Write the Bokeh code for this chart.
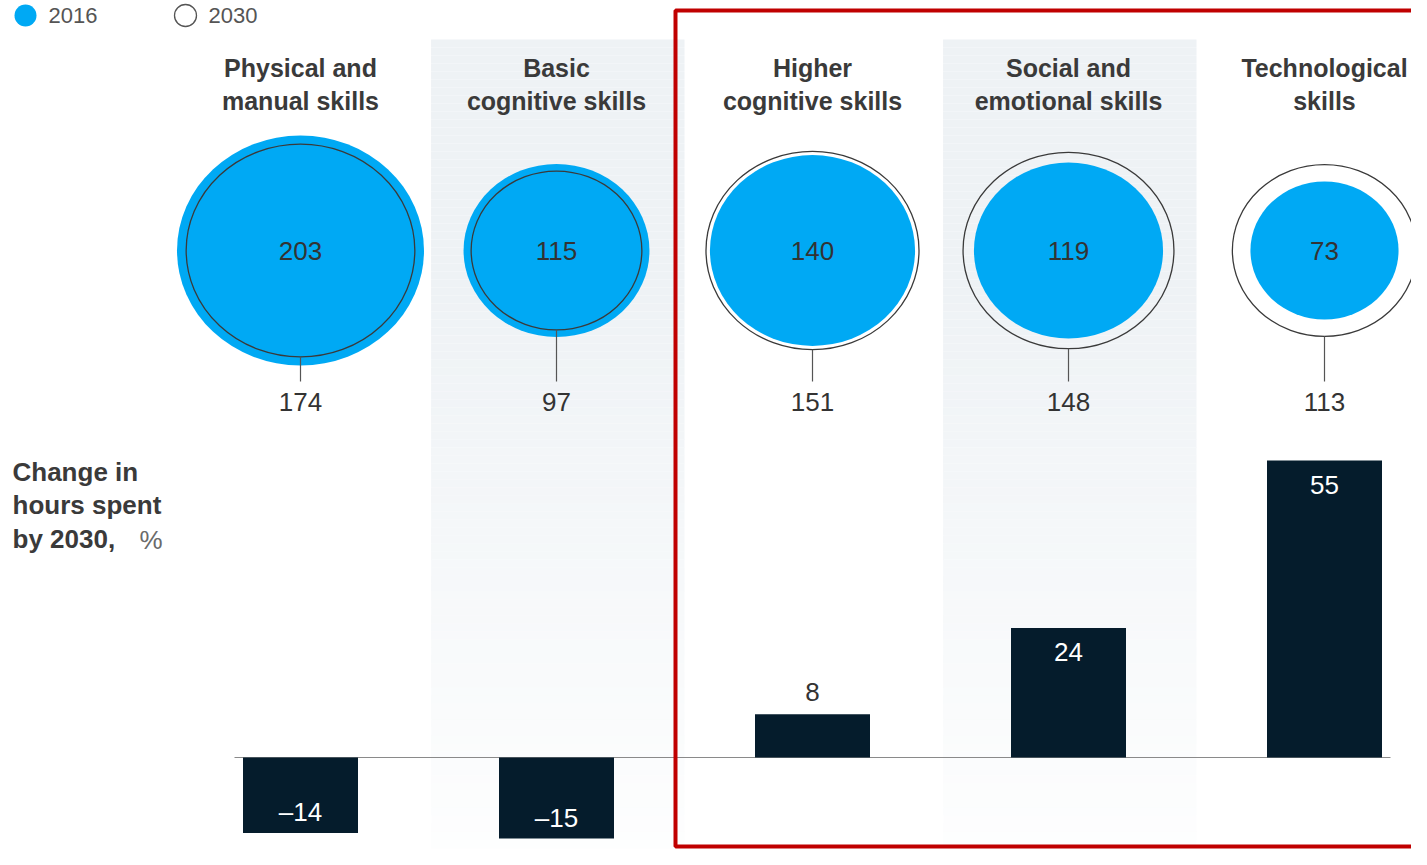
import numpy as np
from bokeh.plotting import figure
from bokeh.models import Range1d
from bokeh.embed import file_html
from bokeh.resources import INLINE
from bokeh.core.properties import value

# ---------------- data ----------------
categories = [
    "Physical and\nmanual skills",
    "Basic\ncognitive skills",
    "Higher\ncognitive skills",
    "Social and\nemotional skills",
    "Technological\nskills",
]
hours_2016 = [203, 115, 140, 119, 73]
hours_2030 = [174, 97, 151, 148, 113]
change_pct = [-14, -15, 8, 24, 55]
change_labels = ["\u201314", "\u201315", "8", "24", "55"]
legend_labels = ["2016", "2030"]
y_title_lines = "Change in\nhours spent\nby 2030,"
y_title_unit = "%"
shaded_columns = [1, 3]

# ---------------- style ----------------
FONT = value("Liberation Sans")
BLUE = "#00A9F4"
NAVY = "#051C2C"
TXT = "#333333"
W, H = 1411, 849
COL0 = 300.0           # x of first column centre
COLW = 256.0           # px per column
ZERO_Y = 757.0         # y of zero line (from top)
PX_PER_PCT = 5.4
CIRCLE_Y = 250.0
KX, KY = 123.5 / np.sqrt(203), 115.0 / np.sqrt(203)
NUM_SIZE = "26px"

x_start = -COL0 / COLW
x_end = x_start + W / COLW
y_start = -(H - ZERO_Y) / PX_PER_PCT
y_end = ZERO_Y / PX_PER_PCT

p = figure(width=W, height=H, output_backend="svg", toolbar_location=None,
           x_range=Range1d(x_start, x_end), y_range=Range1d(y_start, y_end),
           min_border=0, x_axis_location=None, y_axis_location=None,
           outline_line_color=None, background_fill_color="white",
           border_fill_color="white")
p.extra_x_ranges = {"px": Range1d(0, W)}
p.extra_y_ranges = {"px": Range1d(H, 0)}
p.xgrid.visible = False
p.ygrid.visible = False

idx = np.arange(len(categories))

# shaded column bands with a fade toward the bottom
strip_tops = np.arange(39, H, 8.0)
for c in shaded_columns:
    alphas = np.clip(1.0 - (strip_tops - 280) / 620.0, 0.08, 1.0)
    p.quad(left=[c - 0.49] * len(strip_tops), right=[c + 0.5] * len(strip_tops),
           top=strip_tops, bottom=strip_tops + 8.0, y_range_name="px",
           fill_color="#EEF2F5", fill_alpha=alphas, line_color=None)

# zero line
p.segment(x0=[234], x1=[1390], y0=[0], y1=[0], x_range_name="px",
          line_color="#8A8A8A", line_width=1)

# bars
p.vbar(x=idx, top=change_pct, bottom=0, width=115 / COLW,
       fill_color=NAVY, line_color=None)
lab_off = []
lab_col = []
for v in change_pct:
    if v >= 10:
        lab_off.append(24); lab_col.append("white")
    elif v >= 0:
        lab_off.append(-22); lab_col.append(TXT)
    else:
        lab_off.append(-21); lab_col.append("white")
p.text(x=idx, y=change_pct, text=change_labels, y_offset=lab_off,
       text_color=lab_col, text_font=FONT, text_font_size=NUM_SIZE,
       text_align="center", text_baseline="middle")

# bubbles
s16 = np.sqrt(np.array(hours_2016, dtype=float))
s30 = np.sqrt(np.array(hours_2030, dtype=float))
p.ellipse(x=idx, y=[CIRCLE_Y] * len(idx), width=2 * KX * s16, height=2 * KY * s16,
          width_units="screen", height_units="screen", y_range_name="px",
          fill_color=BLUE, line_color=None)
p.ellipse(x=idx, y=[CIRCLE_Y] * len(idx), width=2 * KX * s30, height=2 * KY * s30,
          width_units="screen", height_units="screen", y_range_name="px",
          fill_color=None, line_color="#3A3A3A", line_width=1.3)
p.segment(x0=idx, x1=idx, y0=CIRCLE_Y + KY * s30, y1=[381] * len(idx),
          y_range_name="px", line_color="#555555", line_width=1.2)
p.text(x=idx, y=[CIRCLE_Y] * len(idx), text=[str(v) for v in hours_2016],
       y_range_name="px", text_font=FONT, text_font_size=NUM_SIZE,
       text_color=TXT, text_align="center", text_baseline="middle")
p.text(x=idx, y=[401] * len(idx), text=[str(v) for v in hours_2030],
       y_range_name="px", text_font=FONT, text_font_size=NUM_SIZE,
       text_color=TXT, text_align="center", text_baseline="middle")

# column titles
p.text(x=idx, y=[84] * len(idx), text=categories, y_range_name="px",
       text_font=FONT, text_font_size="25px", text_font_style="bold",
       text_color="#3A3A3A", text_align="center", text_baseline="middle",
       text_line_height=1.17)

# left title
p.text(x=[12], y=[505], text=[y_title_lines], x_range_name="px", y_range_name="px",
       text_font=FONT, text_font_size="26px", text_font_style="bold",
       text_color="#3A3A3A", text_align="left", text_baseline="middle",
       text_line_height=1.13)
p.text(x=[139], y=[539], text=[y_title_unit], x_range_name="px", y_range_name="px",
       text_font=FONT, text_font_size="26px", text_color="#6A6A6A",
       text_align="left", text_baseline="middle")

# legend (at the very top edge, as in the reference)
p.scatter(x=[25], y=[15], size=22, marker="circle", x_range_name="px",
          y_range_name="px", fill_color=BLUE, line_color=None)
p.scatter(x=[185], y=[15], size=22, marker="circle", x_range_name="px",
          y_range_name="px", fill_color=None, line_color="#555555", line_width=1.3)
p.text(x=[48, 208], y=[15, 15], text=legend_labels, x_range_name="px", y_range_name="px",
       text_font=FONT, text_font_size="22px", text_color="#555555",
       text_align="left", text_baseline="middle")

# red highlight frame
p.quad(left=[675], right=[1460], top=[10], bottom=[846], x_range_name="px",
       y_range_name="px", fill_color=None, line_color="#C00000", line_width=4)

open("out.html", "w").write(file_html(p, INLINE))
